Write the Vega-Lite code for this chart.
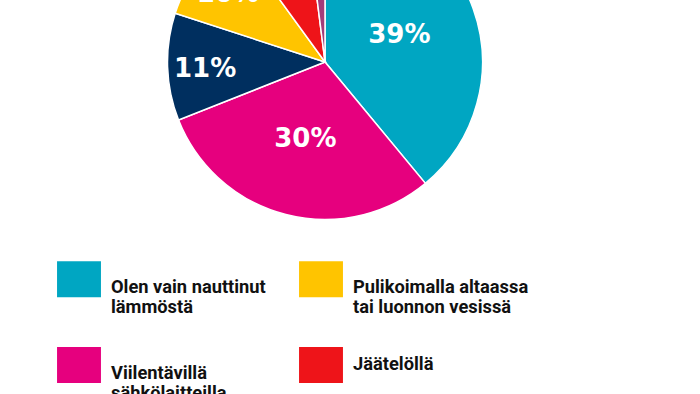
{
  "$schema": "https://vega.github.io/schema/vega-lite/v6.json",
  "width": 650,
  "height": 124,
  "autosize": {"type": "none"},
  "padding": {"left": 0, "top": 0, "right": 50, "bottom": 270},
  "background": "white",
  "config": {"view": {"stroke": null}},
  "data": {
    "values": [
      {"vastaus": "Olen vain nauttinut lämmöstä", "osuus": 39, "teksti": "39%"},
      {"vastaus": "Viilentävillä sähkölaitteilla", "osuus": 30, "teksti": "30%"},
      {"vastaus": "Muulla tavoin", "osuus": 11, "teksti": "11%"},
      {"vastaus": "Pulikoimalla altaassa tai luonnon vesissä", "osuus": 10, "teksti": "10%"},
      {"vastaus": "Jäätelöllä", "osuus": 8, "teksti": "8%"},
      {"vastaus": "En osaa sanoa", "osuus": 2, "teksti": "2%"}
    ]
  },
  "encoding": {
    "theta": {"field": "osuus", "type": "quantitative", "stack": true},
    "order": {"field": "osuus", "type": "quantitative", "sort": "descending"}
  },
  "layer": [
    {
      "mark": {"type": "arc", "outerRadius": 157.5, "stroke": "white", "strokeWidth": 1.5},
      "encoding": {
        "color": {
          "field": "vastaus",
          "type": "nominal",
          "scale": {
            "domain": ["Olen vain nauttinut lämmöstä", "Viilentävillä sähkölaitteilla", "Muulla tavoin", "Pulikoimalla altaassa tai luonnon vesissä", "Jäätelöllä", "En osaa sanoa"],
            "range": ["#00A6C2", "#E6007E", "#002F5F", "#FFC400", "#EE1419", "#A23C7A"]
          },
          "legend": {
            "orient": "none",
            "legendX": 61,
            "legendY": 261,
            "columns": 2,
            "title": null,
            "values": ["Olen vain nauttinut lämmöstä", "Viilentävillä sähkölaitteilla", "Muulla tavoin", "Pulikoimalla altaassa tai luonnon vesissä", "Jäätelöllä", "En osaa sanoa"],
            "symbolType": "M-1.22,-1L1.22,-1L1.22,1L-1.22,1Z",
            "symbolSize": 1296,
            "symbolStrokeWidth": 0,
            "symbolOpacity": 1,
            "labelFont": "Roboto",
            "labelFontWeight": "bold",
            "labelFontSize": 18.3,
            "labelColor": "#111111",
            "labelOffset": 14,
            "labelLimit": 400,
            "labelBaseline": {"expr": "datum.label == 'Jäätelöllä' || datum.label == 'Muulla tavoin' || datum.label == 'En osaa sanoa' ? 'middle' : 'top'"},
            "labelLineHeight": 26,
            "rowPadding": 30,
            "columnPadding": 33,
            "labelExpr": "datum.label == 'Olen vain nauttinut lämmöstä' ? ['Olen vain nauttinut', 'lämmöstä'] : datum.label == 'Pulikoimalla altaassa tai luonnon vesissä' ? ['Pulikoimalla altaassa', 'tai luonnon vesissä'] : datum.label == 'Viilentävillä sähkölaitteilla' ? ['Viilentävillä', 'sähkölaitteilla'] : datum.label"
          }
        }
      }
    },
    {
      "mark": {"type": "text", "radius": 79, "dy": 0, "font": "DejaVu Sans", "fontWeight": "bold", "fontSize": 26, "fill": "white"},
      "encoding": {
        "detail": {"field": "vastaus", "type": "nominal"},
        "text": {"condition": {"test": "datum.osuus >= 20", "field": "teksti"}, "value": ""}
      }
    },
    {
      "mark": {"type": "text", "radius": 120, "dy": 3, "font": "DejaVu Sans", "fontWeight": "bold", "fontSize": 26, "fill": "white"},
      "encoding": {
        "detail": {"field": "vastaus", "type": "nominal"},
        "text": {"condition": {"test": "datum.osuus < 20 && datum.osuus >= 5", "field": "teksti"}, "value": ""}
      }
    }
  ]
}
